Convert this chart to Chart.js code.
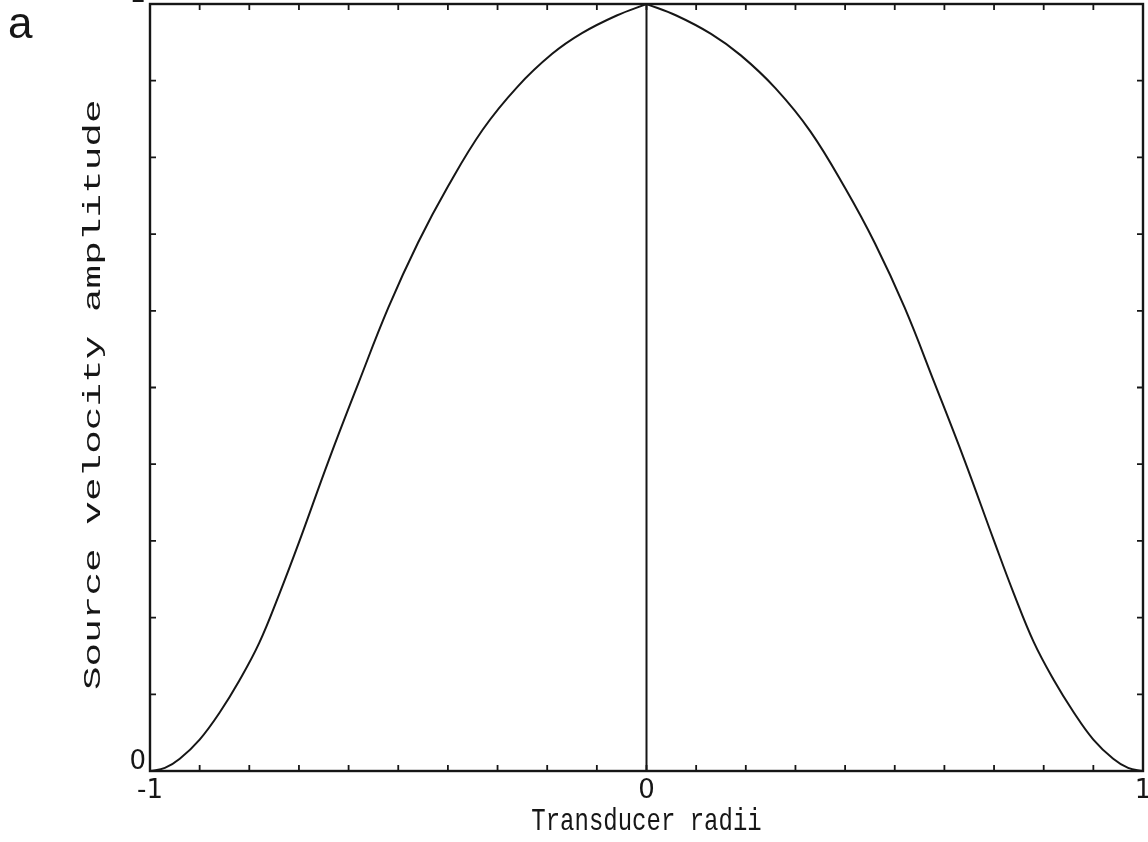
<!DOCTYPE html>
<html>
<head>
<meta charset="utf-8">
<script src="https://cdn.jsdelivr.net/npm/chart.js@4.4.1/dist/chart.umd.min.js"></script>
<style>
  html, body { margin: 0; padding: 0; background: #fff; }
  #wrap { width: 1148px; height: 842px; position: relative; }
</style>
</head>
<body>
<div id="wrap"><canvas id="c"></canvas></div>
<script>
// Radial position across the transducer face (in radii) and normalised velocity amplitude
const radii = [-1, -0.97, -0.94, -0.90, -0.86, -0.82, -0.78, -0.74, -0.70, -0.64, -0.58,
  -0.52, -0.46, -0.40, -0.33, -0.26, -0.19, -0.13, -0.06, 0,
  0.06, 0.13, 0.19, 0.26, 0.33, 0.40, 0.46, 0.52, 0.58, 0.64,
  0.70, 0.74, 0.78, 0.82, 0.86, 0.90, 0.94, 0.97, 1];
const amplitude = [0, 0.004, 0.016, 0.041, 0.076, 0.118, 0.167, 0.230, 0.298, 0.405, 0.506,
  0.604, 0.689, 0.762, 0.836, 0.892, 0.935, 0.962, 0.985, 1.0,
  0.985, 0.961, 0.933, 0.890, 0.834, 0.760, 0.688, 0.604, 0.506, 0.406,
  0.300, 0.231, 0.168, 0.119, 0.077, 0.041, 0.016, 0.004, 0];

// Centre line of the transducer
const centreRadii = [0, 0];
const centreAmplitude = [0, 1];

// Tick values that carry a label
const xLabelValues = [-1, 0, 1];
const yLabelValues = [0, 1];

const xTitle = 'Transducer radii';
const yTitle = 'Source velocity amplitude';
const panelLetter = 'a';

const INK = '#161616';

const toPoints = (xs, ys) => xs.map((x, i) => ({ x: x, y: ys[i] }));
const round1 = v => Math.round(v * 10) / 10;

// the profile has a cusp at the centre, so each half is drawn as its own smooth line
const allPoints = toPoints(radii, amplitude);
const leftHalf = allPoints.filter(p => p.x <= 0);
const rightHalf = allPoints.filter(p => p.x >= 0);

// Frame, inward tick marks on all four sides, axis titles in a tall plotter-style face, panel letter
const framePlugin = {
  id: 'frame',
  afterDatasetsDraw(chart) {
    const { ctx, chartArea: { left, right, top, bottom }, scales: { x, y } } = chart;
    ctx.save();
    ctx.strokeStyle = INK;
    ctx.lineWidth = 2.4;
    ctx.strokeRect(left, top, right - left, bottom - top);
    ctx.lineWidth = 1.8;
    ctx.beginPath();
    x.ticks.forEach(t => {
      const p = x.getPixelForValue(t.value);
      if (p <= left + 1 || p >= right - 1) return;
      ctx.moveTo(p, bottom); ctx.lineTo(p, bottom - 6);
      ctx.moveTo(p, top); ctx.lineTo(p, top + 6);
    });
    y.ticks.forEach(t => {
      const p = y.getPixelForValue(t.value);
      if (p <= top + 1 || p >= bottom - 1) return;
      ctx.moveTo(left, p); ctx.lineTo(left + 6, p);
      ctx.moveTo(right, p); ctx.lineTo(right - 6, p);
    });
    ctx.stroke();
    ctx.restore();
  },
  afterDraw(chart) {
    const { ctx, chartArea: { left, right } } = chart;
    ctx.save();
    ctx.fillStyle = INK;
    ctx.font = '24px "Liberation Mono"';
    ctx.textBaseline = 'alphabetic';

    // horizontal axis title, stretched vertically
    ctx.save();
    ctx.translate((left + right) / 2, 830);
    ctx.scale(1, 1.3);
    ctx.textAlign = 'center';
    ctx.fillText(xTitle, 0, 0);
    ctx.restore();

    // vertical axis title, stretched along its length
    ctx.save();
    ctx.translate(100, 690);
    ctx.rotate(-Math.PI / 2);
    ctx.scale(1.64, 1);
    ctx.textAlign = 'left';
    ctx.fillText(yTitle, 0, 0);
    ctx.restore();

    ctx.font = '44px "Liberation Sans"';
    ctx.textAlign = 'left';
    ctx.fillText(panelLetter, 8, 38);
    ctx.restore();
  }
};

const curveStyle = {
  borderColor: INK,
  borderWidth: 2,
  pointRadius: 0,
  tension: 0.4,
  fill: false
};

new Chart(document.getElementById('c'), {
  type: 'line',
  data: {
    datasets: [
      Object.assign({ data: leftHalf }, curveStyle),
      Object.assign({ data: rightHalf }, curveStyle),
      {
        data: toPoints(centreRadii, centreAmplitude),
        borderColor: INK,
        borderWidth: 2,
        pointRadius: 0,
        tension: 0,
        fill: false
      }
    ]
  },
  options: {
    responsive: true,
    maintainAspectRatio: false,
    devicePixelRatio: 1,
    animation: false,
    layout: { padding: { left: 0, right: 5, top: 4, bottom: 0 } },
    plugins: { legend: { display: false }, tooltip: { enabled: false } },
    scales: {
      x: {
        type: 'linear',
        min: -1,
        max: 1,
        grid: { display: false, drawTicks: false },
        border: { display: false },
        ticks: {
          stepSize: 0.1,
          autoSkip: false,
          maxRotation: 0,
          padding: 5,
          color: INK,
          font: { family: '"DejaVu Sans"', size: 26 },
          callback: v => xLabelValues.includes(round1(v)) ? String(round1(v)) : ''
        },
        title: { display: false },
        afterFit(s) { s.height = 71; s.paddingLeft = 0; s.paddingRight = 0; }
      },
      y: {
        type: 'linear',
        min: 0,
        max: 1,
        grid: { display: false, drawTicks: false },
        border: { display: false },
        ticks: {
          stepSize: 0.1,
          autoSkip: false,
          padding: 4,
          labelOffset: -9,
          color: INK,
          font: { family: '"DejaVu Sans"', size: 26 },
          callback: v => yLabelValues.includes(round1(v)) ? String(round1(v)) : ''
        },
        title: { display: false },
        afterFit(s) { s.width = 150; s.paddingTop = 0; s.paddingBottom = 0; }
      }
    }
  },
  plugins: [framePlugin]
});
</script>
</body>
</html>
